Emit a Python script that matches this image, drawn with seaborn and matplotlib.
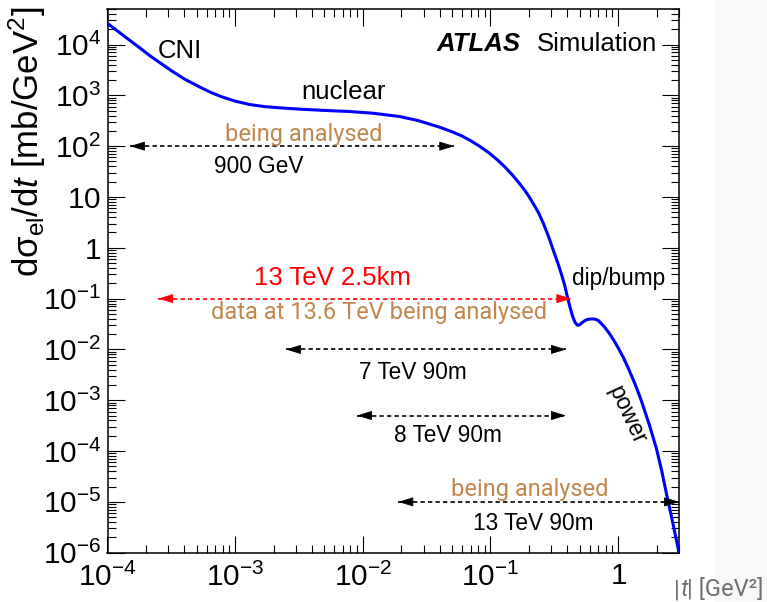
import numpy as np
import pandas as pd
import matplotlib
matplotlib.use("Agg")
import matplotlib.pyplot as plt
import seaborn as sns
from matplotlib.ticker import FixedLocator, FixedFormatter, LogLocator, NullFormatter
from matplotlib.patches import Rectangle

# ---------------- data ----------------
t_values = [1.0e-4, 1.25e-4, 1.5e-4, 1.8e-4, 2.15e-4, 2.6e-4, 3.2e-4, 4.0e-4, 5.3e-4,
            6.5e-4, 8.0e-4, 1.0e-3, 1.3e-3, 1.7e-3, 2.2e-3, 3.2e-3, 5.0e-3, 7.9e-3,
            1.2e-2, 1.94e-2, 2.7e-2, 3.5e-2, 4.0e-2, 5.0e-2, 6.0e-2, 7.0e-2, 8.2e-2,
            0.098, 0.115, 0.13, 0.15, 0.168, 0.185, 0.20, 0.22, 0.24, 0.26, 0.275,
            0.29, 0.306, 0.325, 0.34, 0.36, 0.38, 0.40, 0.42, 0.44, 0.46, 0.48,
            0.50, 0.525, 0.55, 0.575, 0.628, 0.67, 0.70, 0.77, 0.85, 0.92, 1.0,
            1.1, 1.2, 1.35, 1.5, 1.75, 2.0, 2.2, 2.4, 2.7, 3.0]
dsigma_values = [2.6e4, 1.7e4, 1.2e4, 8.5e3, 6.0e3, 4.3e3, 3.0e3, 2.1e3, 1.45e3,
                 1.13e3, 920, 770, 660, 600, 570, 535, 505, 480,
                 445, 383, 320, 262, 236, 192, 158, 128, 100,
                 73, 52, 38.8, 26.3, 18.7, 13.7, 10.3, 6.9, 4.7, 3.0, 2.1,
                 1.48, 1.0, 0.65, 0.47, 0.30, 0.19, 0.11, 0.068, 0.045, 0.034, 0.030,
                 0.0305, 0.034, 0.037, 0.039, 0.040, 0.039, 0.037, 0.029, 0.021, 0.0155, 0.0108,
                 0.0069, 0.0043, 0.00216, 1.08e-3, 3.4e-4, 1.1e-4, 4.0e-5, 1.4e-5, 3.6e-6, 1.0e-6]

x_tick_values = [1e-4, 1e-3, 1e-2, 1e-1, 1]
x_tick_labels = [r'$10^{-4}$', r'$10^{-3}$', r'$10^{-2}$', r'$10^{-1}$', r'$1$']
y_tick_values = [1e-6, 1e-5, 1e-4, 1e-3, 1e-2, 1e-1, 1, 10, 1e2, 1e3, 1e4]
y_tick_labels = [r'$10^{-6}$', r'$10^{-5}$', r'$10^{-4}$', r'$10^{-3}$', r'$10^{-2}$',
                 r'$10^{-1}$', r'$1$', r'$10$', r'$10^{2}$', r'$10^{3}$', r'$10^{4}$']

arrow_names = ['900 GeV', '13 TeV 2.5km', '7 TeV 90m', '8 TeV 90m', '13 TeV 90m']
arrow_t_min = [1.5e-4, 2.5e-4, 2.5e-3, 9.0e-3, 1.9e-2]
arrow_t_max = [0.052, 0.43, 0.39, 0.39, 3.0]
arrow_level = [100, 0.1, 0.01, 5e-4, 1e-5]
arrow_colors = ['black', 'red', 'black', 'black', 'black']

# ---------------- style ----------------
sns.set_style("ticks")
plt.rcParams['font.family'] = ['Liberation Sans', 'DejaVu Sans']
plt.rcParams['text.color'] = 'black'
plt.rcParams['axes.labelcolor'] = 'black'
plt.rcParams['axes.edgecolor'] = 'black'
plt.rcParams['xtick.color'] = 'black'
plt.rcParams['ytick.color'] = 'black'
plt.rcParams['mathtext.fontset'] = 'custom'
plt.rcParams['mathtext.rm'] = 'Liberation Sans'
plt.rcParams['mathtext.it'] = 'Liberation Sans:italic'
plt.rcParams['mathtext.bf'] = 'Liberation Sans:bold'
plt.rcParams['mathtext.sf'] = 'Liberation Sans'

W, H = 767, 602
fig = plt.figure(figsize=(W / 100, H / 100), dpi=100)
fig.patch.set_facecolor('white')
fig.patches.append(Rectangle((715 / W, 0), (W - 715) / W, 1, transform=fig.transFigure,
                             facecolor='#f8f8f8', edgecolor='none', zorder=-10))

ax = fig.add_axes([107.5 / W, 1 - 552.7 / H, (679 - 107.5) / W, (552.7 - 9) / H])
ax.set_facecolor('white')

df = pd.DataFrame({'t': t_values, 'dsdt': dsigma_values})
sns.lineplot(data=df, x='t', y='dsdt', ax=ax, color='#0000ff', linewidth=2.2,
             sort=False, zorder=5)

ax.set_xscale('log')
ax.set_yscale('log')
ax.set_xlim(1e-4, 3.0)
ax.set_ylim(1e-6, 5e4)
ax.set_xlabel('')
ax.set_ylabel('')

ax.xaxis.set_major_locator(FixedLocator(x_tick_values))
ax.xaxis.set_major_formatter(FixedFormatter(x_tick_labels))
ax.yaxis.set_major_locator(FixedLocator(y_tick_values))
ax.yaxis.set_major_formatter(FixedFormatter(y_tick_labels))
ax.xaxis.set_minor_locator(LogLocator(base=10, subs=np.arange(2, 10), numticks=30))
ax.yaxis.set_minor_locator(LogLocator(base=10, subs=np.arange(2, 10), numticks=30))
ax.xaxis.set_minor_formatter(NullFormatter())
ax.yaxis.set_minor_formatter(NullFormatter())

ax.tick_params(which='both', direction='in', top=True, right=True, color='black', width=0.8)
ax.tick_params(which='major', length=12)
ax.tick_params(which='minor', length=6)
ax.tick_params(axis='x', which='major', labelsize=21.5, pad=7, labelcolor='black')
ax.tick_params(axis='y', which='major', labelsize=21.5, pad=4.5, labelcolor='black')
for sp in ax.spines.values():
    sp.set_visible(True)
    sp.set_color('black')
    sp.set_linewidth(1.1)

# ---------------- arrows ----------------
for name, t0, t1, lev, col in zip(arrow_names, arrow_t_min, arrow_t_max, arrow_level, arrow_colors):
    ax.plot([t0, t1], [lev, lev], color=col, lw=1.2, linestyle=(0, (2.6, 1.9)), zorder=4)
    for tip, off in ((t0, 10), (t1, -10)):
        ax.annotate('', xy=(tip, lev), xycoords='data', xytext=(off, 0),
                    textcoords='offset points', annotation_clip=False,
                    arrowprops=dict(arrowstyle='-|>,head_length=9.4,head_width=2.9',
                                    mutation_scale=1, color=col, lw=0.6,
                                    shrinkA=0, shrinkB=0), zorder=6)

# ---------------- texts ----------------
brown = '#c1874f'
def ftext(x, y, s, **kw):
    kw.setdefault('color', 'black')
    return fig.text(x / W, 1 - y / H, s, **kw)

ftext(180, 58.3, 'CNI', fontsize=18.5, ha='center', va='baseline')
ftext(343.5, 99.3, 'nuclear', fontsize=18.5, ha='center', va='baseline')
ftext(303.5, 141, 'being analysed', fontsize=17, family='Roboto', color=brown,
      ha='center', va='baseline')
ftext(259, 173.3, '900 GeV', fontsize=16.3, ha='center', va='baseline')
ftext(332.5, 285, '13 TeV 2.5km', fontsize=18.5, color='red', ha='center', va='baseline')
ftext(379, 319, 'data at 13.6 TeV being analysed', fontsize=17, family='Roboto',
      color=brown, ha='center', va='baseline')
ftext(413, 379.3, '7 TeV 90m', fontsize=16.3, ha='center', va='baseline')
ftext(448, 441.7, '8 TeV 90m', fontsize=16.3, ha='center', va='baseline')
ftext(529.5, 496, 'being analysed', fontsize=17, family='Roboto', color=brown,
      ha='center', va='baseline')
ftext(533, 530.5, '13 TeV 90m', fontsize=16.3, ha='center', va='baseline')
ftext(618.3, 285, 'dip/bump', fontsize=16.3, ha='center', va='baseline')
ftext(626.7, 415, 'power', fontsize=16.3, ha='center', va='center', rotation=-65,
      rotation_mode='anchor')
ftext(437, 50.7, 'ATLAS', fontsize=18.5, fontweight='bold', fontstyle='italic',
      ha='left', va='baseline')
ftext(537, 50.7, 'Simulation', fontsize=18.5, ha='left', va='baseline')

# y-axis title
ftext(27, 142, r'dσ$_{\rm el}$/d$t$ [mb/GeV$^{2}$]', fontsize=25, rotation=90,
      ha='center', va='center')

# x-axis title (grey, right side)
gray = '#707070'
p1 = ftext(674, 596, '|', fontsize=17, family='Roboto', color=gray, ha='left', va='baseline')
p2 = ax.annotate('t', xy=(1, 0), xycoords=p1, fontsize=17, family='Roboto',
                 style='italic', color=gray, ha='left', va='bottom', annotation_clip=False)
p3 = ax.annotate('| [GeV²]', xy=(1, 0), xycoords=p2, fontsize=17, family='Roboto',
                 color=gray, ha='left', va='bottom', annotation_clip=False)

fig.savefig('out.png', dpi=100)
